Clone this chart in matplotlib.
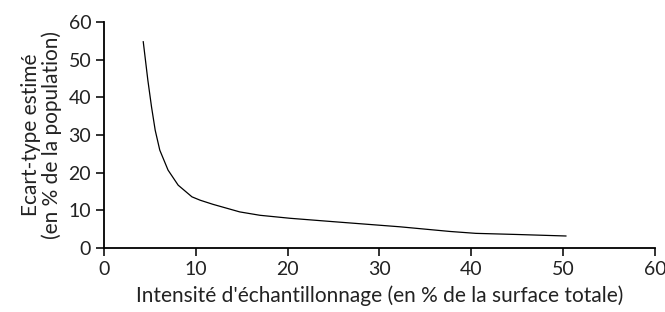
import matplotlib
matplotlib.use("Agg")
import matplotlib.pyplot as plt

plt.rcParams['font.family'] = ['Lato', 'DejaVu Sans']

# intensite d'echantillonnage (% surface) vs ecart-type estime (% population)
intensite = [4.3, 4.8, 5.2, 5.6, 6.1, 7.0, 8.1, 9.6, 10.5, 11.9, 14.8, 17.0,
             20.3, 25.0, 32.2, 37.7, 40.5, 45.0, 50.3]
ecart_type = [54.8, 44.6, 37.5, 31.3, 26.0, 20.7, 16.7, 13.6, 12.7, 11.6, 9.6, 8.7,
              7.9, 7.0, 5.65, 4.4, 3.9, 3.6, 3.2]

xticks = [0, 10, 20, 30, 40, 50, 60]
yticks = [0, 10, 20, 30, 40, 50, 60]

fig = plt.figure(figsize=(6.65, 3.12), dpi=100)
ax = fig.add_axes([0.156, 0.205, 0.829, 0.724])

ax.plot(intensite, ecart_type, color='black', linewidth=0.9)

ax.set_xlim(0, 60)
ax.set_ylim(0, 60)
ax.set_xticks(xticks)
ax.set_yticks(yticks)

ax.spines['top'].set_visible(False)
ax.spines['right'].set_visible(False)
for s in ('left', 'bottom'):
    ax.spines[s].set_linewidth(1.3)
ax.tick_params(direction='out', length=6, width=1.3, labelsize=14, pad=3,
               colors='#222222')

ax.set_xlabel("Intensité d'échantillonnage (en % de la surface totale)", fontsize=15,
              labelpad=6, color='#222222')
ax.set_ylabel("Ecart-type estimé\n(en % de la population)", fontsize=15,
              labelpad=5, color='#222222', linespacing=1.0)

fig.savefig("out.png", dpi=100)
